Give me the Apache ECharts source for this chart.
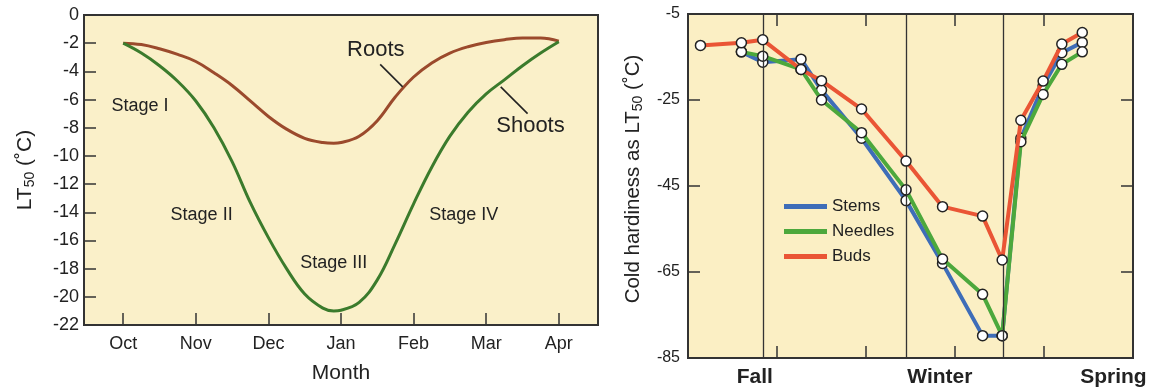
<!DOCTYPE html>
<html><head><meta charset="utf-8">
<script src="https://cdn.jsdelivr.net/npm/echarts@6/dist/echarts.min.js"></script>
<style>html,body{margin:0;padding:0;background:#fff}#c{width:1154px;height:389px}</style>
</head><body><div id="c"></div>
<script>
// ---------- Left chart data ----------
const months = ['Oct','Nov','Dec','Jan','Feb','Mar','Apr'];
const monthTicks = [0,1,2,3,4,5,6];
const curveX = [0,0.25,0.5,0.75,1,1.25,1.5,1.75,2,2.25,2.5,2.75,2.9,3,3.25,3.5,3.75,4,4.25,4.5,4.75,5,5.25,5.5,5.75,6];
const rootsVals  = [-2.0,-2.1,-2.4,-2.8,-3.3,-4.1,-5.0,-6.1,-7.2,-8.1,-8.75,-9.05,-9.1,-9.05,-8.6,-7.5,-5.8,-4.4,-3.4,-2.7,-2.25,-1.95,-1.75,-1.63,-1.63,-1.85];
const shootsVals = [-2.0,-2.7,-3.6,-4.7,-6.1,-8.0,-10.4,-13.3,-15.8,-18.0,-19.8,-20.8,-21.0,-20.95,-20.4,-18.8,-16.2,-13.4,-10.8,-8.6,-6.9,-5.6,-4.6,-3.6,-2.7,-1.9];
const stageLabels = ['Stage I','Stage II','Stage III','Stage IV'];
const stageX = [0.23,1.08,2.9,4.69];
const stageY = [-6.45,-14.2,-17.6,-14.2];
const curveLabels = ['Roots','Shoots'];
const curveLabelX = [3.48,5.61];
const curveLabelY = [-2.5,-7.9];
const arrowFrom = [[3.54,-3.5],[5.57,-7.0]];
const arrowTo   = [[3.85,-5.1],[5.2,-5.1]];

// ---------- Right chart data ----------
const seasons = ['Fall','Winter','Spring'];
const seasonLabelPos = [0.75,2.83,4.78];
const seasonBounds = [0.84,2.45,3.54];
const timeTicks = [1,2,3,4];
const hardTicks = [-85,-65,-45,-25,-5];
const budsX = [0.14,0.60,0.84,1.27,1.50,1.95,2.45,2.86,3.31,3.53,3.74,3.99,4.20,4.43];
const budsY = [-12.3,-11.7,-11.0,-17.9,-20.5,-27.1,-39.2,-49.8,-52.0,-62.2,-29.7,-20.6,-12.0,-9.3];
const tissueX = [0.60,0.84,1.27,1.50,1.95,2.45,2.86,3.31,3.53,3.74,3.99,4.20,4.43];
const stemsY   = [-13.8,-16.2,-15.5,-22.7,-33.9,-48.4,-63.0,-79.8,-79.8,-33.9,-21.7,-14.0,-11.6];
const needlesY = [-13.8,-14.8,-17.9,-25.0,-32.6,-45.9,-62.0,-70.2,-79.8,-34.7,-23.7,-16.7,-13.8];

const pairs = (xs, ys) => xs.map((x,i)=>[x, ys[i]]);
const FONT = '"Liberation Sans", Arial, sans-serif';
const DARK = '#222';
const BORDER = '#333';
const COLORS = {roots:'#9B4A2C', shoots:'#3B7B2C', stems:'#3E6DB8', needles:'#4CA83C', buds:'#EA5535'};

const markerStyle = {color:'#fff', borderColor:'#222', borderWidth:1.5};
const axLine = {show:true, onZero:false, lineStyle:{color:BORDER, width:2}};

const option = {
  animation:false,
  textStyle:{fontFamily:FONT, color:DARK},
  grid:[
    {left:84, top:15, width:514, height:313, show:true, backgroundColor:'#FAF0C9', borderColor:BORDER, borderWidth:2},
    {left:688, top:14, width:445, height:344, show:true, backgroundColor:'#FBEFC4', borderColor:BORDER, borderWidth:2}
  ],
  legend:{
    orient:'vertical', left:779, top:193, itemWidth:43, itemHeight:5, itemGap:8, icon:'rect',
    textStyle:{fontSize:17, color:DARK, fontFamily:FONT},
    data:[
      {name:'Stems', itemStyle:{color:COLORS.stems, borderWidth:0}},
      {name:'Needles', itemStyle:{color:COLORS.needles, borderWidth:0}},
      {name:'Buds', itemStyle:{color:COLORS.buds, borderWidth:0}}
    ]
  },
  xAxis:[
    {gridIndex:0, type:'value', min:-0.54, max:6.54, axisLine:axLine,
     axisTick:{show:true, inside:true, length:12, customValues:monthTicks, lineStyle:{color:BORDER, width:1.5}},
     axisLabel:{customValues:monthTicks, formatter:v=>months[Math.round(v)], fontSize:18, color:DARK, margin:10},
     splitLine:{show:false},
     name:'Month', nameLocation:'middle', nameGap:38, nameTextStyle:{fontSize:21, color:DARK}},
    {gridIndex:1, type:'value', min:0, max:5, axisLine:axLine,
     axisTick:{show:true, inside:true, length:12, customValues:timeTicks, lineStyle:{color:BORDER, width:1.5}},
     axisLabel:{customValues:seasonLabelPos, fontSize:21, fontWeight:'bold', color:DARK, margin:9,
       formatter:v=>{let b=0;seasonLabelPos.forEach((p,i)=>{if(Math.abs(p-v)<Math.abs(seasonLabelPos[b]-v))b=i;});return seasons[b];}},
     splitLine:{show:false}},
    {gridIndex:1, type:'value', min:0, max:5, position:'top', axisLine:axLine,
     axisTick:{show:true, inside:true, length:12, customValues:timeTicks, lineStyle:{color:BORDER, width:1.5}},
     axisLabel:{show:false}, splitLine:{show:false}}
  ],
  yAxis:[
    {gridIndex:0, type:'value', min:-22, max:0, interval:2, axisLine:axLine,
     axisTick:{show:true, inside:true, length:12, lineStyle:{color:BORDER, width:1.5}},
     axisLabel:{fontSize:18, color:DARK, margin:5},
     splitLine:{show:false},
     name:'{n|LT}{s|50}{n| (˚C)}', nameLocation:'middle', nameGap:46,
     nameTextStyle:{color:DARK, rich:{n:{fontSize:21, color:DARK, fontFamily:FONT, lineHeight:26}, s:{fontSize:14, color:DARK, fontFamily:FONT, lineHeight:26, padding:[10,0,0,0]}}}},
    {gridIndex:1, type:'value', min:-85, max:-5, axisLine:axLine,
     axisTick:{show:true, inside:true, length:12, customValues:hardTicks, lineStyle:{color:BORDER, width:1.5}},
     axisLabel:{customValues:hardTicks, fontSize:16, color:DARK, margin:8},
     splitLine:{show:false},
     name:'{n|Cold hardiness as LT}{s|50}{n| (˚C)}', nameLocation:'middle', nameGap:42,
     nameTextStyle:{color:DARK, padding:[0,0,0,14], rich:{n:{fontSize:20.5, color:DARK, fontFamily:FONT, lineHeight:25}, s:{fontSize:14, color:DARK, fontFamily:FONT, lineHeight:25, padding:[9,0,0,0]}}}},
    {gridIndex:1, type:'value', min:-85, max:-5, position:'right', axisLine:axLine,
     axisTick:{show:true, inside:true, length:12, customValues:hardTicks, lineStyle:{color:BORDER, width:1.5}},
     axisLabel:{show:false}, splitLine:{show:false}}
  ],
  series:[
    {name:'Roots', type:'line', xAxisIndex:0, yAxisIndex:0, smooth:0.4, showSymbol:false,
     data:pairs(curveX, rootsVals), lineStyle:{color:COLORS.roots, width:3}, itemStyle:{color:COLORS.roots},
     markPoint:{symbol:'circle', symbolSize:0, silent:true,
       data:stageLabels.map((t,i)=>({name:t, coord:[stageX[i], stageY[i]], label:{fontSize:18}}))
         .concat(curveLabels.map((t,i)=>({name:t, coord:[curveLabelX[i], curveLabelY[i]], label:{fontSize:22}}))),
       label:{show:true, position:'inside', formatter:'{b}', color:DARK, fontFamily:FONT}},
     markLine:{silent:true, symbol:['none','arrow'], symbolSize:[0,11],
       lineStyle:{color:DARK, width:1.6, type:'solid'}, label:{show:false},
       data:arrowFrom.map((f,i)=>[{coord:f},{coord:arrowTo[i]}])}},
    {name:'Shoots', type:'line', xAxisIndex:0, yAxisIndex:0, smooth:0.4, showSymbol:false,
     data:pairs(curveX, shootsVals), lineStyle:{color:COLORS.shoots, width:3}, itemStyle:{color:COLORS.shoots}},
    {name:'Stems', type:'line', xAxisIndex:1, yAxisIndex:1, symbol:'circle', symbolSize:10,
     data:pairs(tissueX, stemsY), lineStyle:{color:COLORS.stems, width:4}, itemStyle:markerStyle, z:3,
     markLine:{silent:true, symbol:'none', label:{show:false}, lineStyle:{color:BORDER, width:1.3, type:'solid'},
       data:seasonBounds.map(v=>({xAxis:v}))}},
    {name:'Needles', type:'line', xAxisIndex:1, yAxisIndex:1, symbol:'circle', symbolSize:10,
     data:pairs(tissueX, needlesY), lineStyle:{color:COLORS.needles, width:4}, itemStyle:markerStyle, z:4},
    {name:'Buds', type:'line', xAxisIndex:1, yAxisIndex:1, symbol:'circle', symbolSize:10,
     data:pairs(budsX, budsY), lineStyle:{color:COLORS.buds, width:4}, itemStyle:markerStyle, z:5}
  ]
};
echarts.init(document.getElementById('c')).setOption(option);
</script>
</body></html>
